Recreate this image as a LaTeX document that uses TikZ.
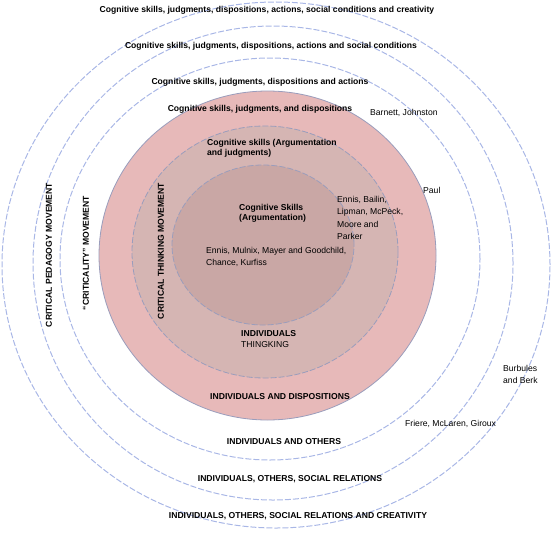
\documentclass[tikz,border=0pt]{standalone}
\usepackage{fontspec}
\setsansfont{Liberation Sans}
\usetikzlibrary{positioning}

\definecolor{ringblue}{HTML}{A9B7E6}
\definecolor{rimgray}{HTML}{9A9DBC}
\definecolor{pinkouter}{HTML}{E7B9B9}
\definecolor{pinkmid}{HTML}{D5B5B3}
\definecolor{pinkinner}{HTML}{C9A7A5}

\begin{document}
\begin{tikzpicture}[
    x=1pt, y=-1pt,
    ring/.style={draw=ringblue, line width=1pt, dash pattern=on 6pt off 2pt},
    core/.style={draw=rimgray, line width=0.8pt, dash pattern=on 6pt off 2pt},
    heading/.style={inner sep=0pt, font=\sffamily\bfseries\fontsize{8.6}{10}\selectfont, align=left},
    names/.style={inner sep=0pt, font=\sffamily\fontsize{8.6}{12.4}\selectfont, align=left},
    movement/.style={heading, rotate=90}
]
\useasboundingbox (0,0) rectangle (553,535);

% Outer rings
\draw[ring] (276,265) ellipse [x radius=274pt, y radius=263pt];
\draw[ring] (273,263) ellipse [x radius=240pt, y radius=237pt];
\draw[ring] (270,259) ellipse [x radius=210pt, y radius=201pt];

% Filled rings
\draw[fill=pinkouter, draw=rimgray, line width=0.8pt] (267.5,255.5) ellipse [x radius=168.5pt, y radius=164.5pt];
\draw[core, fill=pinkmid] (265,252) ellipse [x radius=133pt, y radius=126pt];
\draw[core, fill=pinkinner] (263,245) ellipse [x radius=91pt, y radius=80pt];

% Top labels
\node[heading] (creativity) at (267,10) {Cognitive skills, judgments, dispositions, actions, social conditions and creativity};
\node[heading] (social) at (271,46) {Cognitive skills, judgments, dispositions, actions and social conditions};
\node[heading] (actions) at (260,82) {Cognitive skills, judgments, dispositions and actions};
\node[heading] (dispositions) at (260,109) {Cognitive skills, judgments, and dispositions};
\node[heading, anchor=north west] (judgments) at (207,139) {Cognitive skills (Argumentation\\and judgments)};
\node[heading, anchor=north west] (argumentation) at (239,204) {Cognitive Skills\\(Argumentation)};

% Authors
\node[names, anchor=west] (barnett) at (370,113) {Barnett, Johnston};
\node[names, anchor=west] (paul) at (423,190) {Paul};
\node[names, anchor=north west] (bailin) at (337,196) {Ennis, Bailin,\\Lipman, McPeck,\\Moore and\\Parker};
\node[names, anchor=north west] (mulnix) at (206,247) {Ennis, Mulnix, Mayer and Goodchild,\\Chance, Kurfiss};
\node[names, anchor=north west] (burbules) at (503,365) {Burbules\\and Berk};
\node[names, anchor=west] (friere) at (405,424) {Friere, McLaren, Giroux};

% Movements
\node[movement] (ctm) at (161,251) {CRITICAL THINKING MOVEMENT};
\node[movement] (criticality) at (86,253) {``CRITICALITY'' MOVEMENT};
\node[movement] (pedagogy) at (49,255) {CRITICAL PEDAGOGY MOVEMENT};

% Bottom labels
\node[heading, anchor=west] (individuals) at (241,334) {INDIVIDUALS};
\node[names, below=4.5pt of individuals.south west, anchor=north west] (thinking) {THINGKING};
\node[heading] (indisp) at (280,397) {INDIVIDUALS AND DISPOSITIONS};
\node[heading] (indothers) at (284,442) {INDIVIDUALS AND OTHERS};
\node[heading] (indsocial) at (290,479) {INDIVIDUALS, OTHERS, SOCIAL RELATIONS};
\node[heading] (indcreat) at (298,516) {INDIVIDUALS, OTHERS, SOCIAL RELATIONS AND CREATIVITY};

\end{tikzpicture}
\end{document}
